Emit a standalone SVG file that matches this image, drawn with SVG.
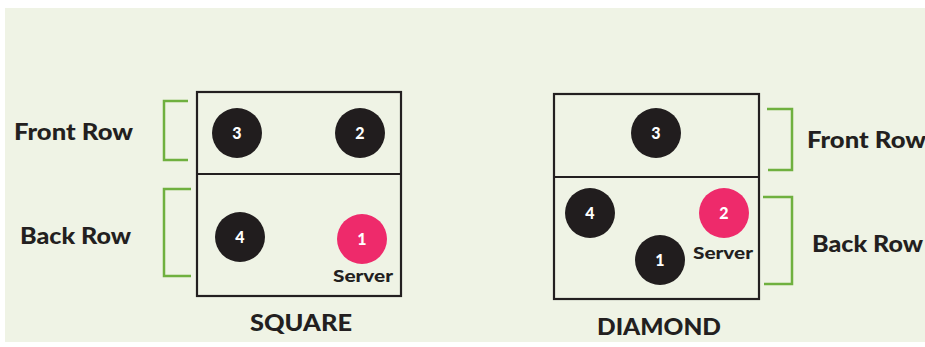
<svg xmlns="http://www.w3.org/2000/svg" width="925" height="347" viewBox="0 0 925 347">
<style>
.court{fill:none;stroke:#231f20;stroke-width:2.2}
.br{fill:none;stroke:#6fb03f;stroke-width:2.5}
.p{fill:#211d1e}
.srv{fill:#ee2a6b}
.num{font-family:Lato,"Open Sans",sans-serif;font-weight:900;font-size:16px;fill:#fff;text-anchor:middle}
.lbl{font-family:Lato,"Open Sans",sans-serif;font-weight:900;font-size:22px;fill:#231f20}
.ttl{font-family:Lato,"Open Sans",sans-serif;font-weight:900;font-size:22px;fill:#231f20;text-anchor:middle}
.s{font-family:Lato,"Open Sans",sans-serif;font-weight:900;font-size:16px;fill:#231f20;text-anchor:middle}
</style>
<rect width="925" height="347" fill="#ffffff"/>
<rect x="5" y="8" width="920" height="334" fill="#eff3e5"/>
<g id="square">
<rect class="court" x="197" y="92" width="204" height="204"/>
<line class="court" x1="197" y1="174" x2="401" y2="174"/>
<text class="ttl" x="301" y="331" textLength="102" lengthAdjust="spacingAndGlyphs">SQUARE</text>
</g>
<g id="sq-front-label">
<path class="br" d="M188 101H164V160H188"/>
<text class="lbl" x="14" y="140" textLength="119" lengthAdjust="spacingAndGlyphs">Front Row</text>
</g>
<g id="sq-back-label">
<path class="br" d="M191 189H164V276H191"/>
<text class="lbl" x="20" y="244" textLength="111" lengthAdjust="spacingAndGlyphs">Back Row</text>
</g>
<g id="sq-p3"><circle class="p" cx="237" cy="133" r="25"/><text class="num" x="237" y="139">3</text></g>
<g id="sq-p2"><circle class="p" cx="360" cy="133" r="25"/><text class="num" x="360" y="139">2</text></g>
<g id="sq-p4"><circle class="p" cx="240" cy="237" r="25"/><text class="num" x="240" y="243">4</text></g>
<g id="sq-p1"><circle class="srv" cx="362" cy="239" r="25"/><text class="num" x="362" y="245">1</text><text class="s" x="363" y="282" textLength="60" lengthAdjust="spacingAndGlyphs">Server</text></g>
<g id="diamond">
<rect class="court" x="554" y="94" width="205" height="205"/>
<line class="court" x1="554" y1="177" x2="759" y2="177"/>
<text class="ttl" x="659" y="335" textLength="124" lengthAdjust="spacingAndGlyphs">DIAMOND</text>
</g>
<g id="di-front-label">
<path class="br" d="M767 109H792V170H768"/>
<text class="lbl" x="807" y="148" textLength="119" lengthAdjust="spacingAndGlyphs">Front Row</text>
</g>
<g id="di-back-label">
<path class="br" d="M763 197H792V284H764"/>
<text class="lbl" x="812" y="252" textLength="111" lengthAdjust="spacingAndGlyphs">Back Row</text>
</g>
<g id="di-p3"><circle class="p" cx="656" cy="133" r="25"/><text class="num" x="656" y="139">3</text></g>
<g id="di-p4"><circle class="p" cx="590" cy="213" r="25"/><text class="num" x="590" y="219">4</text></g>
<g id="di-p2"><circle class="srv" cx="724" cy="213" r="25"/><text class="num" x="724" y="219">2</text><text class="s" x="723" y="259" textLength="60" lengthAdjust="spacingAndGlyphs">Server</text></g>
<g id="di-p1"><circle class="p" cx="660" cy="260" r="25"/><text class="num" x="660" y="266">1</text></g>
<g id="connectors"/>
</svg>
